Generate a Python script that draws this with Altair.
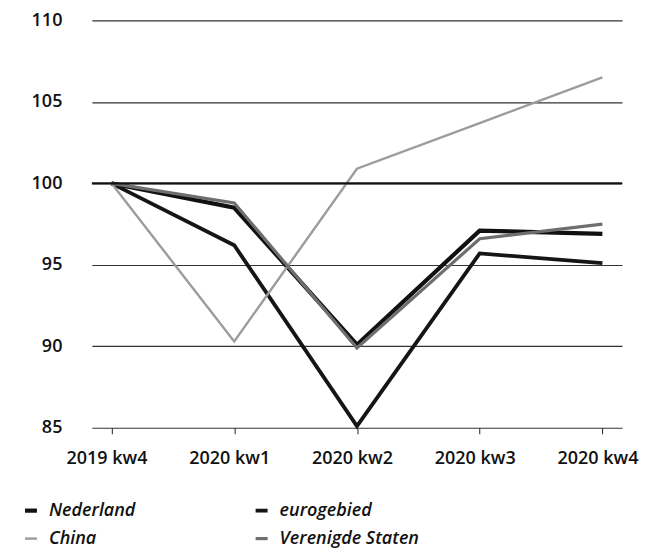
import altair as alt
import pandas as pd

quarters = ["2019 kw4", "2020 kw1", "2020 kw2", "2020 kw3", "2020 kw4"]
series = ["Nederland", "eurogebied", "China", "Verenigde Staten"]
nederland = [100, 98.5, 90.1, 97.1, 96.9]
eurogebied = [100, 96.2, 85.1, 95.7, 95.1]
china = [100, 90.3, 100.9, 103.7, 106.5]
vs = [100, 98.8, 89.9, 96.6, 97.5]

# legend is laid out column by column: this order gives rows
# "Nederland | eurogebied" and "China | Verenigde Staten"
legend_order = ["Nederland", "China", "eurogebied", "Verenigde Staten"]
colors = ["#111111", "#9c9c9c", "#151515", "#6e6e6e"]
widths = [4.2, 2.4, 3.8, 3.2]

rows = []
for name, vals in zip(series, [nederland, eurogebied, china, vs]):
    for q, v in zip(quarters, vals):
        rows.append({"kwartaal": q, "reeks": name, "waarde": v})
df = pd.DataFrame(rows)
order_map = {"China": 0, "Verenigde Staten": 1, "eurogebied": 2, "Nederland": 3}
df["z"] = df["reeks"].map(order_map)

FONT = "Open Sans"

y_axis = alt.Axis(values=[85, 90, 95, 100, 105, 110], domain=False,
                  ticks=False, grid=True, gridColor="#333",
                  gridWidth=1.2, labelPadding=30, labelFontSize=18,
                  labelFontWeight=600,
                  labelFont=FONT, labelColor="#111")
y_scale = alt.Scale(domain=[85, 110], nice=False, zero=False)

x = alt.X("kwartaal:N", sort=quarters, title=None,
          scale=alt.Scale(type="point", padding=0.16),
          axis=alt.Axis(labelAngle=0, domain=False, grid=False, ticks=True,
                        tickSize=6, tickColor="#222", tickWidth=1,
                        labelPadding=16, labelOffset=-5, labelFontSize=18,
                        labelFontWeight=600,
                        labelFont=FONT, labelColor="#111"))
y = alt.Y("waarde:Q", title=None, scale=y_scale, axis=y_axis)

lines = alt.Chart(df).mark_line(strokeCap="butt", strokeJoin="miter").encode(
    x=x,
    y=y,
    color=alt.Color("reeks:N", sort=legend_order,
                    scale=alt.Scale(domain=legend_order, range=colors),
                    legend=alt.Legend(title=None, orient="none",
                                      legendX=-70, legendY=482,
                                      columns=2, columnPadding=112,
                                      rowPadding=10,
                                      symbolType="stroke", symbolSize=144,
                                      symbolStrokeWidth=3.5,
                                      labelFont=FONT, labelFontSize=18,
                                      labelFontWeight=600,
                                      labelFontStyle="italic",
                                      labelColor="#111", labelOffset=9)),
    strokeWidth=alt.StrokeWidth("reeks:N",
                                scale=alt.Scale(type="ordinal",
                                                domain=legend_order,
                                                range=widths),
                                legend=None),
    order=alt.Order("z:Q"),
    detail="reeks:N",
)

ref = alt.Chart(pd.DataFrame({"waarde": [100]})).mark_rule(
    color="#111", strokeWidth=2.2).encode(
    y=alt.Y("waarde:Q", title=None, scale=y_scale, axis=y_axis))

chart = alt.layer(lines, ref).properties(
    width=531, height=408,
    autosize=alt.AutoSizeParams(type="none"),
    padding={"left": 84, "top": 12, "right": 20, "bottom": 125},
    background="white",
).configure_view(stroke=None)

chart.save("out.html", embed_options={"renderer": "svg", "actions": False})
